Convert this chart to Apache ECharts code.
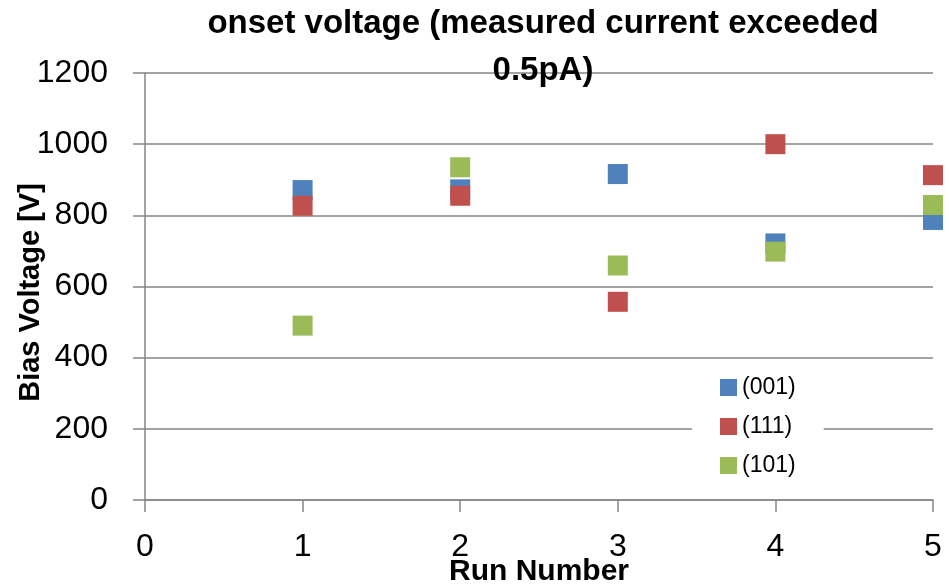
<!DOCTYPE html>
<html>
<head>
<meta charset="utf-8">
<script src="https://cdn.jsdelivr.net/npm/echarts@6/dist/echarts.min.js"></script>
<style>html,body{margin:0;padding:0;background:#fff;}#c{width:949px;height:587px;}</style>
</head>
<body>
<div id="c"></div>
<script>
const runs = [1, 2, 3, 4, 5];
const s001 = [871, 873, 916, 721, 787];
const s111 = [827, 855, 557, 1000, 913];
const s101 = [490, 935, 659, 698, 829];
const seriesNames = ['(001)', '(111)', '(101)'];
const colors = ['#4F81BD', '#C0504D', '#9BBB59'];
const xTicks = [0, 1, 2, 3, 4, 5];
const yTicks = [0, 200, 400, 600, 800, 1000, 1200];

const FONT = '"Liberation Sans", Arial, sans-serif';
const chart = echarts.init(document.getElementById('c'), null, {renderer: 'canvas'});
const allSeries = [s001, s111, s101].map((vals, i) => ({
  name: seriesNames[i],
  type: 'scatter',
  symbol: 'rect',
  symbolSize: 20,
  itemStyle: {color: colors[i], opacity: 1},
  data: runs.map((r, j) => [r, vals[j]]),
  z: 3 + i
}));
chart.setOption({
  animation: false,
  backgroundColor: '#fff',
  color: colors,
  title: {
    text: 'onset voltage (measured current exceeded\n0.5pA)',
    left: 543, top: 0, textAlign: 'center', padding: 0,
    textStyle: {fontFamily: FONT, fontSize: 33, fontWeight: 'bold', color: '#000', lineHeight: 47}
  },
  grid: {left: 145, right: 16, top: 73, bottom: 87, containLabel: false, outerBoundsMode: 'none'},
  legend: {
    orient: 'vertical',
    left: 692, top: 361,
    padding: [15, 28, 15, 28],
    backgroundColor: '#fff',
    itemWidth: 17, itemHeight: 17, itemGap: 16,
    icon: 'rect',
    data: seriesNames,
    textStyle: {fontFamily: FONT, fontSize: 23, color: '#000', lineHeight: 22}
  },
  xAxis: {
    type: 'value', min: xTicks[0], max: xTicks[xTicks.length - 1], interval: 1,
    name: 'Run Number', nameLocation: 'middle', nameGap: 57, nameMoveOverlap: false,
    nameTextStyle: {fontFamily: FONT, fontSize: 30, fontWeight: 'bold', color: '#000'},
    axisLine: {show: true, onZero: false, lineStyle: {color: '#868686', width: 1.5}},
    axisTick: {show: true, length: 12, lineStyle: {color: '#868686', width: 1.5}},
    axisLabel: {fontFamily: FONT, fontSize: 32, color: '#000', margin: 31},
    splitLine: {show: false}
  },
  yAxis: {
    type: 'value', min: yTicks[0], max: yTicks[yTicks.length - 1], interval: 200,
    name: 'Bias Voltage [V]', nameLocation: 'middle', nameGap: 100, nameRotate: 90, nameMoveOverlap: false,
    nameTextStyle: {fontFamily: FONT, fontSize: 29, fontWeight: 'bold', color: '#000', padding: [0, 12, 0, 0]},
    axisLine: {show: true, lineStyle: {color: '#868686', width: 1.5}},
    axisTick: {show: true, length: 12, lineStyle: {color: '#868686', width: 1.5}},
    axisLabel: {fontFamily: FONT, fontSize: 32, color: '#000', margin: 37, formatter: v => String(v)},
    splitLine: {show: true, lineStyle: {color: '#868686', width: 1.5}}
  },
  series: allSeries
});
</script>
</body>
</html>
